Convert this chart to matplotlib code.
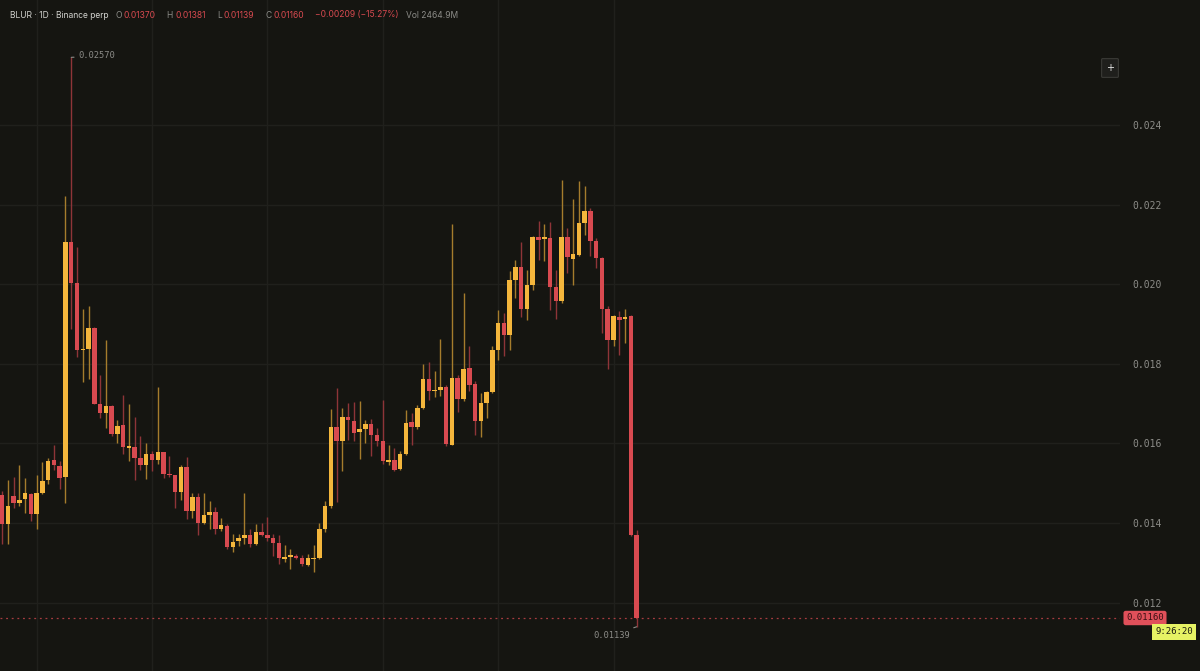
import numpy as np
import matplotlib
matplotlib.use("Agg")
import matplotlib.pyplot as plt

# daily candles, BLUR perp
opens = [0.014696, 0.013983, 0.014671, 0.014511, 0.014595, 0.014721, 0.014218, 0.014763, 0.015073, 0.015576,
         0.015433, 0.015157, 0.021048, 0.020025, 0.018341, 0.018366, 0.018911, 0.017000, 0.016774, 0.016942,
         0.016229, 0.016456, 0.015894, 0.015911, 0.015626, 0.015458, 0.015743, 0.015576, 0.015785, 0.015224,
         0.015199, 0.014780, 0.015408, 0.014302, 0.014662, 0.014009, 0.014193, 0.014277, 0.013841, 0.013925,
         0.013397, 0.013548, 0.013615, 0.013699, 0.013464, 0.013774, 0.013690, 0.013615, 0.013489, 0.013104,
         0.013146, 0.013171, 0.013112, 0.012944, 0.013087, 0.013112, 0.013858, 0.014428, 0.016402, 0.016050,
         0.016654, 0.016570, 0.016277, 0.016360, 0.016486, 0.016218, 0.016050, 0.015531, 0.015581, 0.015355,
         0.015732, 0.016536, 0.016402, 0.016888, 0.017617, 0.017307, 0.017332, 0.017416, 0.015966, 0.017642,
         0.017114, 0.017894, 0.017492, 0.016570, 0.017014, 0.017282, 0.018355, 0.019025, 0.018732, 0.020098,
         0.020425, 0.019385, 0.019972, 0.021187, 0.021145, 0.021162, 0.019922, 0.019587, 0.021179, 0.020642,
         0.020743, 0.021539, 0.021832, 0.021095, 0.020659, 0.019385, 0.018606, 0.019168, 0.019134, 0.019200,
         0.013700]
highs = [0.014805, 0.015073, 0.015157, 0.015450, 0.015123, 0.014763, 0.015199, 0.015542, 0.015643, 0.015961,
         0.015559, 0.022223, 0.025700, 0.020922, 0.019388, 0.019456, 0.018928, 0.017721, 0.018601, 0.016958,
         0.016581, 0.017210, 0.017000, 0.016665, 0.016187, 0.016020, 0.015810, 0.017428, 0.015785, 0.015684,
         0.015199, 0.015450, 0.015668, 0.014763, 0.014746, 0.014746, 0.014553, 0.014402, 0.014134, 0.013966,
         0.013715, 0.013732, 0.014746, 0.013841, 0.013966, 0.014009, 0.014151, 0.013715, 0.013699, 0.013447,
         0.013338, 0.013213, 0.013196, 0.013213, 0.013447, 0.014009, 0.014553, 0.016858, 0.017389, 0.016888,
         0.017014, 0.017039, 0.017056, 0.016595, 0.016620, 0.016385, 0.017098, 0.015966, 0.015882, 0.015799,
         0.016846, 0.016763, 0.016972, 0.018003, 0.018045, 0.017810, 0.018631, 0.017475, 0.021514, 0.017709,
         0.019779, 0.018439, 0.017559, 0.017265, 0.017307, 0.018439, 0.019360, 0.019277, 0.020324, 0.020617,
         0.021061, 0.020366, 0.021204, 0.021581, 0.021514, 0.021564, 0.020366, 0.022612, 0.021413, 0.022151,
         0.022587, 0.022461, 0.021916, 0.021162, 0.020676, 0.019444, 0.019235, 0.019318, 0.019385, 0.019220,
         0.013810]
lows = [0.013464, 0.013481, 0.014386, 0.014428, 0.014260, 0.014050, 0.013858, 0.014721, 0.014972, 0.015324,
        0.014846, 0.014511, 0.018869, 0.018173, 0.017545, 0.017612, 0.016983, 0.016631, 0.016397, 0.016187,
        0.016019, 0.015743, 0.015559, 0.015073, 0.015324, 0.015098, 0.015308, 0.015492, 0.015140, 0.015157,
        0.014369, 0.014570, 0.014092, 0.014134, 0.013698, 0.013966, 0.013858, 0.013715, 0.013799, 0.013338,
        0.013280, 0.013422, 0.013481, 0.013397, 0.013439, 0.013673, 0.013548, 0.013171, 0.012978, 0.013028,
        0.012835, 0.013087, 0.012919, 0.012919, 0.012777, 0.013087, 0.013774, 0.014386, 0.014537, 0.015296,
        0.016092, 0.016050, 0.015614, 0.016008, 0.015673, 0.015925, 0.015480, 0.015464, 0.015313, 0.015338,
        0.015698, 0.015966, 0.016369, 0.016871, 0.017098, 0.017156, 0.017182, 0.015925, 0.015950, 0.016779,
        0.017073, 0.017307, 0.016218, 0.016159, 0.016637, 0.017265, 0.018103, 0.018187, 0.018355, 0.019654,
        0.019168, 0.019092, 0.019863, 0.020617, 0.020575, 0.019360, 0.019126, 0.019528, 0.020282, 0.019972,
        0.020701, 0.021246, 0.020701, 0.020408, 0.018774, 0.017877, 0.018439, 0.018212, 0.018522, 0.013660,
        0.011390]
closes = [0.013983, 0.014419, 0.014511, 0.014587, 0.014746, 0.014218, 0.014763, 0.015056, 0.015559, 0.015450,
          0.015140, 0.021048, 0.020025, 0.018341, 0.018383, 0.018911, 0.017000, 0.016774, 0.016942, 0.016229,
          0.016439, 0.015911, 0.015911, 0.015643, 0.015458, 0.015743, 0.015576, 0.015785, 0.015224, 0.015199,
          0.014780, 0.015408, 0.014302, 0.014662, 0.014009, 0.014193, 0.014277, 0.013841, 0.013941, 0.013405,
          0.013531, 0.013615, 0.013699, 0.013464, 0.013774, 0.013699, 0.013632, 0.013489, 0.013112, 0.013146,
          0.013171, 0.013112, 0.012961, 0.013112, 0.013112, 0.013858, 0.014428, 0.016414, 0.016050, 0.016654,
          0.016595, 0.016260, 0.016360, 0.016486, 0.016218, 0.016050, 0.015564, 0.015581, 0.015338, 0.015732,
          0.016511, 0.016402, 0.016888, 0.017617, 0.017307, 0.017332, 0.017416, 0.015983, 0.017642, 0.017114,
          0.017869, 0.017475, 0.016570, 0.017014, 0.017282, 0.018355, 0.019025, 0.018715, 0.020098, 0.020425,
          0.019385, 0.019972, 0.021187, 0.021120, 0.021179, 0.019922, 0.019587, 0.021179, 0.020676, 0.020760,
          0.021539, 0.021832, 0.021095, 0.020659, 0.019385, 0.018606, 0.019193, 0.019109, 0.019168, 0.013700,
          0.011600]

price_ticks = [0.012, 0.014, 0.016, 0.018, 0.020, 0.022, 0.024]
change_text = "\u22120.00209 (\u221215.27%)"
volume_text = "Vol 2464.9M"
countdown = "9:26:20"

BG = "#151511"
GRID = "#20201c"
UP = "#f4b63c"
DOWN = "#d84a50"
UP_WICK = "#a57c2c"
DOWN_WICK = "#8e3438"
TXT = "#8c8c88"

o = np.array(opens); h = np.array(highs); l = np.array(lows); c = np.array(closes)
n = len(o)
x = np.arange(n)
up = c >= o

fig = plt.figure(figsize=(12, 6.71), dpi=100, facecolor=BG)
ax = fig.add_axes([0, 0, 1120 / 1200, 1])
ax.set_facecolor(BG)

# grid
for p in price_ticks:
    ax.axhline(p, color=GRID, lw=1, zorder=0)
for gx in range(6, n, 20):
    ax.axvline(gx, color=GRID, lw=1, zorder=0)

# wicks + bodies
ax.vlines(x[up], l[up], h[up], color=UP_WICK, lw=1, zorder=2)
ax.vlines(x[~up], l[~up], h[~up], color=DOWN_WICK, lw=1, zorder=2)
body = np.maximum(np.abs(c - o), 0.00004)
ax.bar(x[up], body[up], bottom=np.minimum(o, c)[up], width=0.78, color=UP, zorder=3)
ax.bar(x[~up], body[~up], bottom=np.minimum(o, c)[~up], width=0.78, color=DOWN, zorder=3)

ax.set_xlim(-0.35, 193.8)
ax.set_ylim(0.010279, 0.027141)

# last price line
last = c[-1]
ax.axhline(last, color=DOWN, lw=0.9, ls=(0, (1.5, 3)), alpha=0.75, zorder=1)

ax.yaxis.tick_right()
ax.set_yticks(price_ticks)
ax.set_yticklabels([f"{p:.3f}" for p in price_ticks])
ax.tick_params(axis="y", length=0, pad=9, labelsize=7, labelcolor=TXT)
for t in ax.get_yticklabels():
    t.set_fontfamily("DejaVu Sans Mono")
ax.set_xticks([])
for s in ax.spines.values():
    s.set_visible(False)

# high / low markers
ihi = int(np.argmax(h)); ilo = int(np.argmin(l))
ax.annotate(f"{h[ihi]:.5f}", xy=(ihi, h[ihi]), xytext=(5, 1), textcoords="offset points",
            va="center", ha="left", fontsize=6.3, color=TXT, family="DejaVu Sans Mono",
            arrowprops=dict(arrowstyle="-", color=TXT, lw=0.8, shrinkA=1, shrinkB=0))
ax.annotate(f"{l[ilo]:.5f}", xy=(ilo, l[ilo]), xytext=(-5, -3), textcoords="offset points",
            va="top", ha="right", fontsize=6.3, color=TXT, family="DejaVu Sans Mono",
            arrowprops=dict(arrowstyle="-", color=TXT, lw=0.8, shrinkA=1, shrinkB=0))

# last price tag + countdown
fig.text(1145 / 1200, 1 - 618 / 671, f"{last:.5f}", fontsize=6.5, color="#3a0f12",
         family="DejaVu Sans Mono", ha="center", va="center",
         bbox=dict(boxstyle="round,pad=0.3,rounding_size=0.25", fc="#e0505a", ec="none"))
fig.text(1174 / 1200, 1 - 632 / 671, countdown, fontsize=6.5, color="#1a1a10",
         family="DejaVu Sans Mono", ha="center", va="center",
         bbox=dict(boxstyle="square,pad=0.35", fc="#e6f264", ec="none"))

# "+" button
fig.text(1110 / 1200, 1 - 68 / 671, "+", fontsize=7, color="#e8e8e8", ha="center", va="center",
         bbox=dict(boxstyle="round,pad=0.45,rounding_size=0.1", fc="#1f1f1c", ec="#3a3a36", lw=0.8))

# header
hy = 1 - 15 / 671
hdr = [("BLUR · 1D · Binance perp", 10, "#d2d2ce"),
       ("O", 116, TXT), (f"{o[-1]:.5f}", 124, DOWN),
       ("H", 166, TXT), (f"{h[-1]:.5f}", 175, DOWN),
       ("L", 217, TXT), (f"{l[-1]:.5f}", 224, DOWN),
       ("C", 265, TXT), (f"{c[-1]:.5f}", 273, DOWN),
       (change_text, 315, DOWN),
       (volume_text, 406, TXT)]
for s, px, col in hdr:
    fig.text(px / 1200, hy, s, fontsize=6.1, color=col, ha="left", va="center", family="Inter")

fig.savefig("out.png", dpi=100, facecolor=BG)
